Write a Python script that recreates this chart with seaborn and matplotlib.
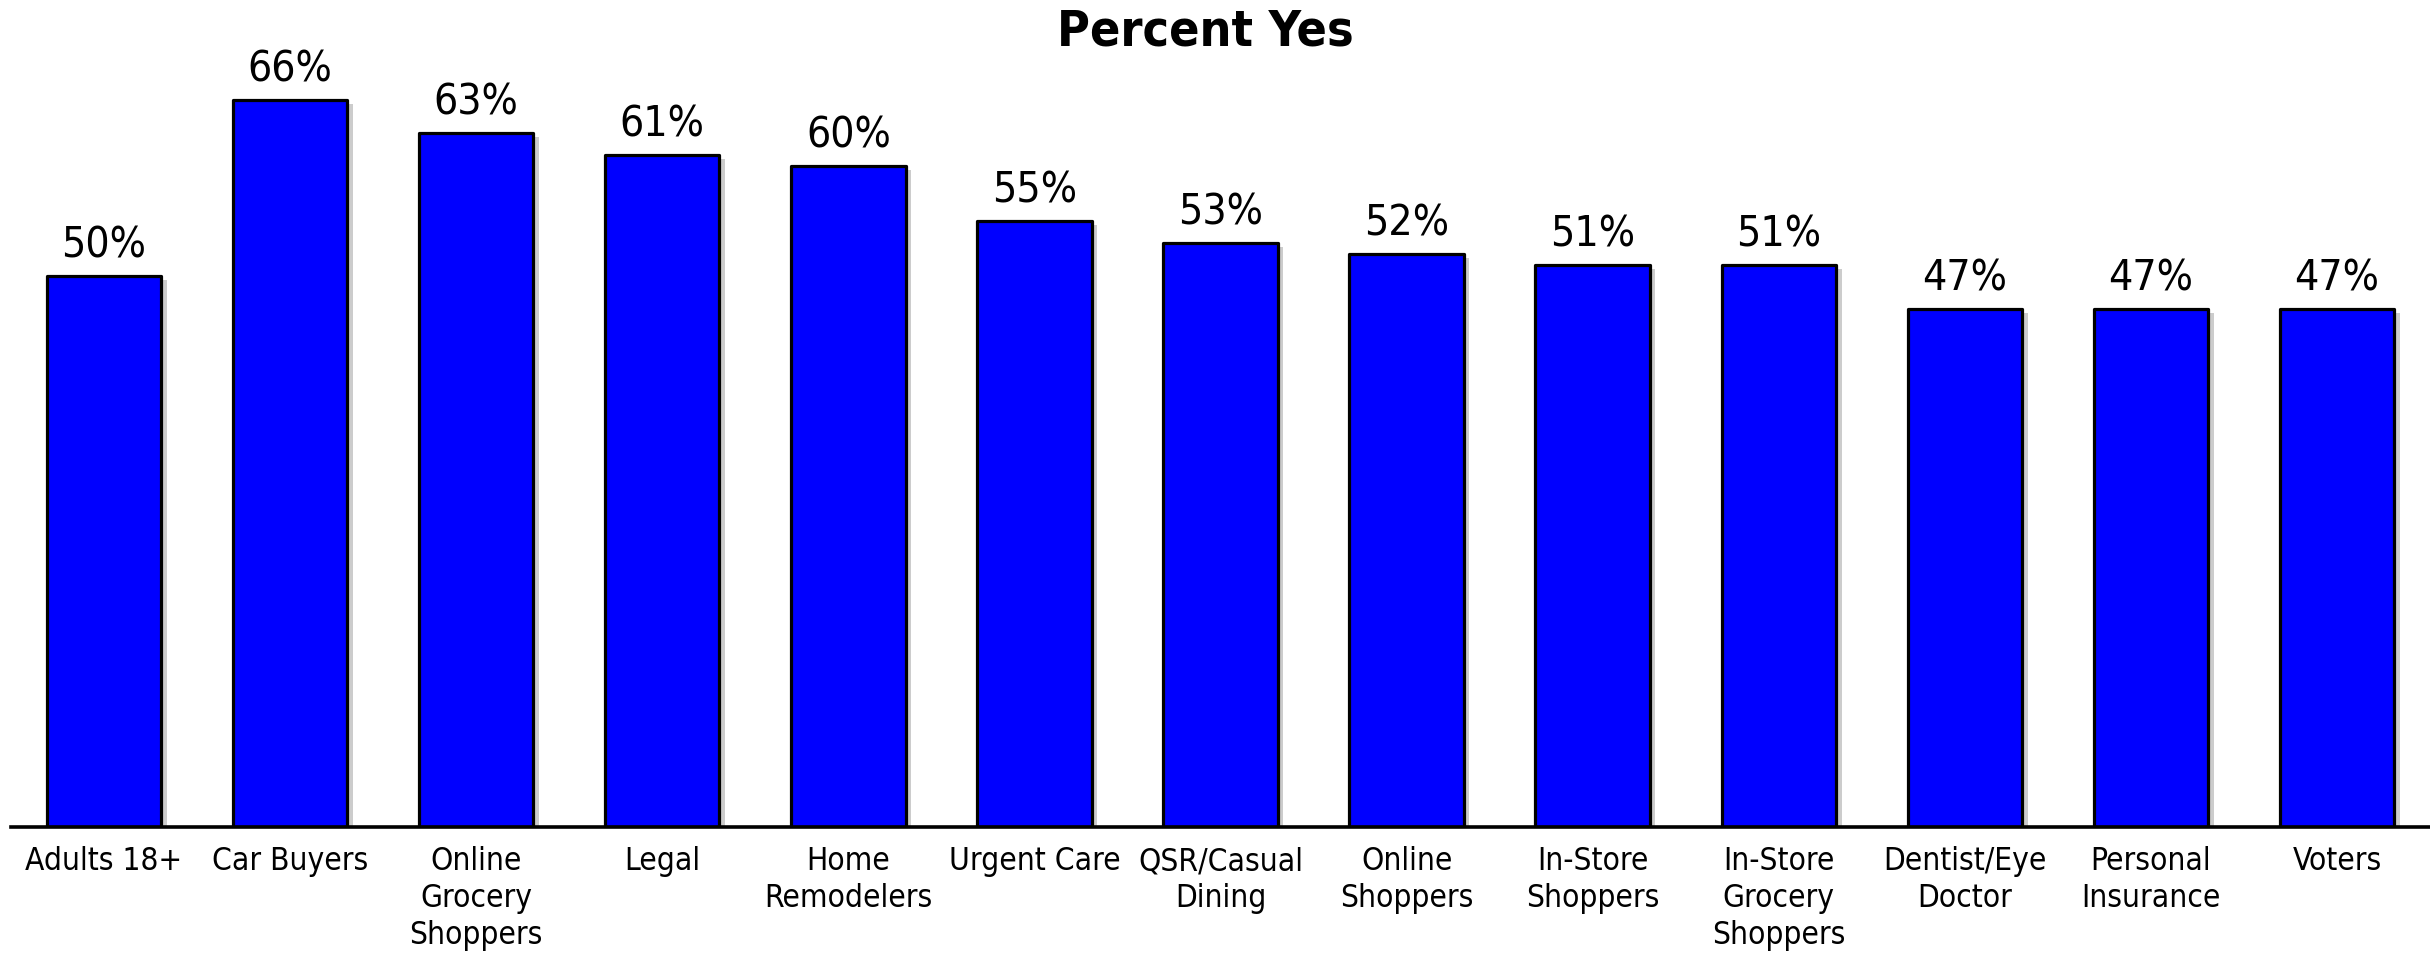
import matplotlib
matplotlib.use("Agg")
import matplotlib.pyplot as plt
import matplotlib.patheffects as pe
from matplotlib import font_manager
import seaborn as sns

# Survey results: share answering "Yes" by audience segment
categories = [
    "Adults 18+", "Car Buyers", "Online\nGrocery\nShoppers", "Legal",
    "Home\nRemodelers", "Urgent Care", "QSR/Casual\nDining",
    "Online\nShoppers", "In-Store\nShoppers", "In-Store\nGrocery\nShoppers",
    "Dentist/Eye\nDoctor", "Personal\nInsurance", "Voters",
]
percent_yes = [50, 66, 63, 61, 60, 55, 53, 52, 51, 51, 47, 47, 47]
value_labels = [f"{v}%" for v in percent_yes]
title_text = "Percent Yes"

sns.set_theme(style="white")
plt.rcParams["font.family"] = ["DejaVu Sans"]

# Prefer the condensed cut of DejaVu Sans when it is installed
stretches = {f.stretch for f in font_manager.fontManager.ttflist if f.name == "DejaVu Sans"}
condensed = "condensed" in stretches or "semi-condensed" in stretches
plt.rcParams["font.stretch"] = "condensed" if condensed else "normal"
scale = 1.0 if condensed else 0.9

W, H, DPI = 2430, 955, 100
fig = plt.figure(figsize=(W / DPI, H / DPI), dpi=DPI)
fig.patch.set_facecolor("white")

x0, x1 = 11, 2430
y_base, y_top = 827, 56
ax = fig.add_axes([x0 / W, (H - y_base) / H, (x1 - x0) / W, (y_base - y_top) / H])

sns.barplot(x=categories, y=percent_yes, color="#0000FF", saturation=1,
            width=0.615, edgecolor="black", linewidth=2.3, ax=ax)

shadow = [pe.SimplePatchShadow(offset=(4, -3), shadow_rgbFace="black", alpha=0.2),
          pe.Normal()]
for bar in ax.patches:
    bar.set_path_effects(shadow)
    bar.set_joinstyle("round")

ax.bar_label(ax.containers[0], labels=value_labels, padding=7,
             fontsize=30.6 * scale, color="black")

ax.set_xlim(-0.5, len(categories) - 0.5)
ax.set_ylim(0, 70)
ax.set_yticks([])
ax.set_xlabel("")
ax.set_ylabel("")
for side in ("top", "right", "left"):
    ax.spines[side].set_visible(False)
ax.spines["bottom"].set_color("black")
ax.spines["bottom"].set_linewidth(2.6)
ax.tick_params(axis="x", length=0, pad=14, labelsize=22.7 * scale,
               labelcolor="black")
for lbl in ax.get_xticklabels():
    lbl.set_linespacing(1.25)

fig.text(1205 / W, (H - 46) / H, title_text, ha="center", va="baseline",
         fontsize=36 * scale, fontweight="bold", color="black")

fig.savefig("out.png", dpi=DPI, facecolor="white")
